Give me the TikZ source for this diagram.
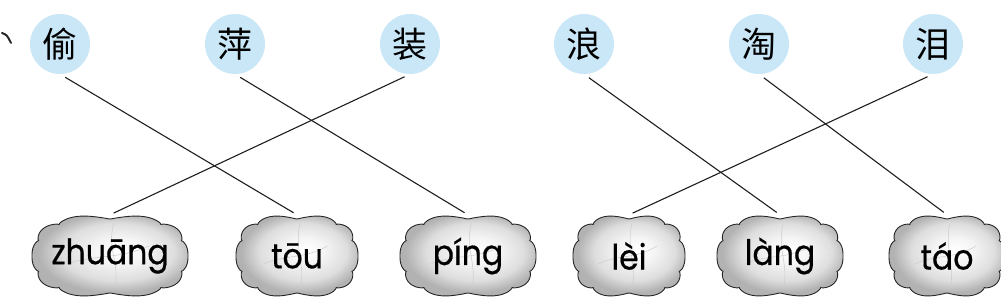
\documentclass[tikz,border=0pt]{standalone}
\usepackage{fontspec}
\newfontfamily\cjk{Noto Sans CJK SC}
\newfontfamily\py[FakeStretch=0.9,FakeBold=0.5]{Poppins}
\definecolor{hanzibg}{RGB}{201,231,247}
\definecolor{linkcol}{RGB}{30,30,30}
\pgfdeclareradialshading{cloudshade}{\pgfpoint{4bp}{4bp}}{%
  color(0bp)=(white); color(8bp)=(black!4); color(18bp)=(black!13);
  color(25bp)=(black!30); color(50bp)=(black!30)}
\tikzset{
  hanzi/.style={circle, fill=hanzibg, minimum size=60pt, inner sep=0pt,
    font=\cjk\fontsize{35}{35}\selectfont},
  pinyin/.style={rectangle, inner sep=0pt, font=\py\fontsize{35}{35}\selectfont},
  link/.style={draw=linkcol, line width=1.1pt, shorten <=6pt, shorten >=4pt},
  cloudline/.style={draw=black!85, line width=0.9pt, shading=cloudshade},
  crack/.style={draw=black!20, line width=0.5pt}
}
% \pycloud{name}{cx}{cy}{half width}{half height}{text}
\newcommand{\pycloud}[6]{%
  \path[cloudline] plot[domain=0:360, samples=241, smooth, variable=\t]
    ({#2+(#4-4)*cos(\t)*pow(abs(cos(\t))+0.001,-0.3)+(4*pow(abs(cos(5*\t)),0.7))*cos(\t)},
     {#3+(#5-4)*sin(\t)*pow(abs(sin(\t))+0.001,-0.25)+(4*pow(abs(cos(5*\t)),0.7))*sin(\t)}) -- cycle;
  \draw[crack] (#2-0.55*#4,#3+8) .. controls (#2-0.2*#4,#3-2) and (#2+0.1*#4,#3+4) .. (#2+0.5*#4,#3-10);
  \draw[crack] (#2+0.05*#4,#3-0.8*#5) .. controls (#2-0.05*#4,#3-0.2*#5) and (#2+0.15*#4,#3+0.3*#5) .. (#2+0.05*#4,#3+0.8*#5);
  \node[pinyin, minimum width=2*#4 pt, minimum height=2*#5 pt] (#1) at (#2,#3) {#6};
}
\begin{document}
\begin{tikzpicture}[x=1pt,y=-1pt]
\useasboundingbox (0,0) rectangle (1001,307);
% fragment of a cut-off mark at the left edge
\coordinate (fragA) at (2,33);
\coordinate (fragB) at (11,43);
\draw[line width=2pt, line cap=round, black!85] (fragA) .. controls (7,35) .. (fragB);
% hanzi
\node[hanzi] (h1) at (60,44) {偷};
\node[hanzi] (h2) at (235,44) {萍};
\node[hanzi] (h3) at (410,44) {装};
\node[hanzi] (h4) at (584,44) {浪};
\node[hanzi] (h5) at (759,44) {淘};
\node[hanzi] (h6) at (933,44) {泪};
% clouds
\pycloud{p1}{110}{256}{78}{41}{zhuāng}
\pycloud{p2}{297}{256}{61}{41}{tōu}
\pycloud{p3}{468}{256}{68}{41}{píng}
\pycloud{p4}{629}{256}{56}{41}{lèi}
\pycloud{p5}{780}{256}{63}{41}{làng}
\pycloud{p6}{947}{256}{58}{41}{táo}
% links
\draw[link] (h1.south) -- (p2.north);
\draw[link] (h2.south) -- (p3.north);
\draw[link] (h3.south) -- (p1.north);
\draw[link] (h4.south) -- (p5.north);
\draw[link] (h5.south) -- (p6.north);
\draw[link] (h6.south) -- (p4.north);
\end{tikzpicture}
\end{document}
